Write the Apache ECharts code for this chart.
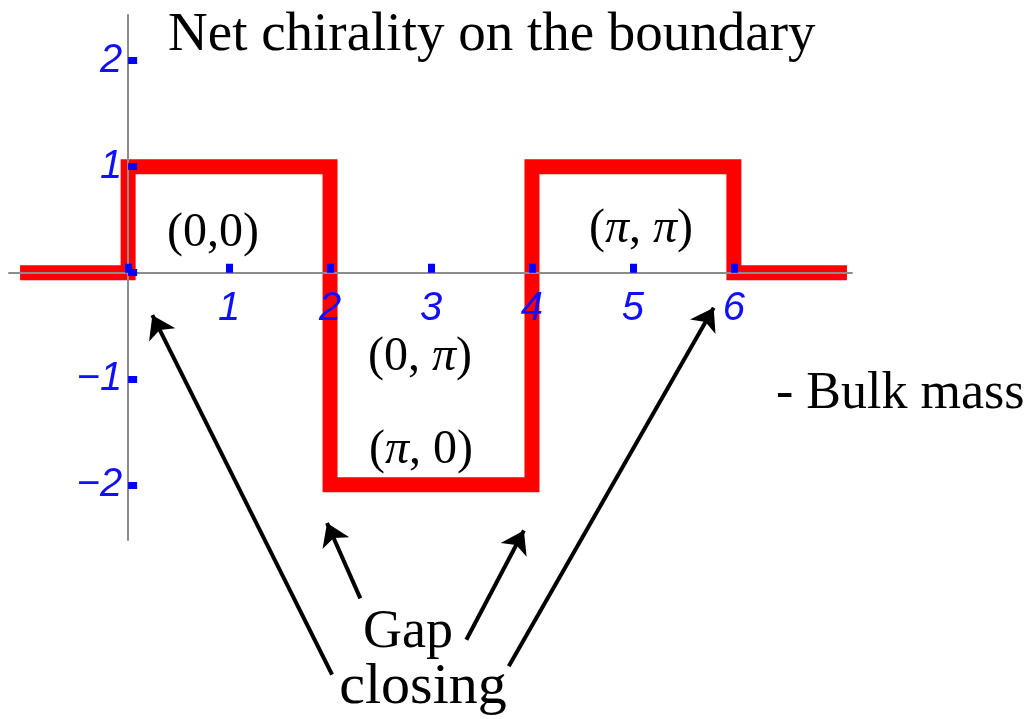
<!DOCTYPE html>
<html>
<head>
<meta charset="utf-8">
<script src="https://cdn.jsdelivr.net/npm/echarts@6/dist/echarts.min.js"></script>
<style>
  html, body { margin: 0; padding: 0; background: #ffffff; }
  #chart { width: 1030px; height: 719px; }
</style>
</head>
<body>
<div id="chart"></div>
<script>
// Boundaries between regions of the bulk mass parameter, and the net chirality in each
const edges = [-1.07, 0, 2, 4, 6, 7.12];
const chirality = [0, 1, -2, 1, 0];

// Axis ticks and labels
const xTickValues = [0, 1, 2, 3, 4, 5, 6];
const xLabelValues = [1, 2, 3, 4, 5, 6];
const yTickValues = [-2, -1, 0, 1, 2];
const yLabelValues = [-2, -1, 1, 2];

// Gap-closing arrows: [tail, head] in axis units
const arrows = [
  [[2.02, -3.79], [0.24, -0.40]],
  [[2.30, -3.07], [1.97, -2.36]],
  [[3.35, -3.46], [3.92, -2.43]],
  [[3.77, -3.71], [5.80, -0.33]]
];

const stepData = edges.map((x, i) => [x, chirality[Math.min(i, chirality.length - 1)]]);

const X_MIN = -1.18, X_MAX = 7.17;
const Y_MIN = -2.52, Y_MAX = 2.43;
const GRID = { left: 9, right: 178, top: 15, bottom: 179 };

const blue = '#1010ff';
const serif = '"Liberation Serif", "DejaVu Serif", serif';

const chart = echarts.init(document.getElementById('chart'), null, { renderer: 'canvas' });

// Place both axes through the origin by shifting them from the grid edges
const plotW = 1030 - GRID.left - GRID.right;
const plotH = 719 - GRID.top - GRID.bottom;
const xAxisShift = -(0 - Y_MIN) / (Y_MAX - Y_MIN) * plotH;
const yAxisShift = -(0 - X_MIN) / (X_MAX - X_MIN) * plotW;

const axisFont = '"Liberation Sans", Arial, sans-serif';

chart.setOption({
  animation: false,
  backgroundColor: '#ffffff',
  grid: Object.assign({ outerBoundsMode: 'none' }, GRID),
  xAxis: {
    type: 'value',
    min: X_MIN, max: X_MAX,
    offset: xAxisShift,
    z: 5,
    splitLine: { show: false },
    axisLine: { onZero: false, lineStyle: { color: '#8c8c8c', width: 2 } },
    axisTick: {
      customValues: xTickValues, inside: true, length: 9,
      lineStyle: { color: '#0000ff', width: 7 }
    },
    axisLabel: {
      customValues: xLabelValues, margin: 16,
      color: blue, fontStyle: 'italic', fontSize: 40, fontFamily: axisFont
    }
  },
  yAxis: {
    type: 'value',
    min: Y_MIN, max: Y_MAX,
    offset: yAxisShift,
    z: 5,
    splitLine: { show: false },
    axisLine: { onZero: false, lineStyle: { color: '#8c8c8c', width: 2 } },
    axisTick: {
      customValues: yTickValues, inside: true, length: 9,
      lineStyle: { color: '#0000ff', width: 7 }
    },
    axisLabel: {
      customValues: yLabelValues, margin: 6,
      color: blue, fontStyle: 'italic', fontSize: 40, fontFamily: axisFont,
      formatter: v => (v < 0 ? '\u2212' + (-v) : String(v))
    }
  },
  series: [
    {
      type: 'line',
      step: 'end',
      data: stepData,
      symbol: 'none',
      z: 2,
      lineStyle: { color: '#ff0000', width: 15, join: 'miter', cap: 'butt' }
    },
    {
      type: 'lines',
      coordinateSystem: 'cartesian2d',
      clip: false,
      z: 6,
      symbol: ['none', 'arrow'],
      symbolSize: 22,
      lineStyle: { color: '#000000', width: 4, opacity: 1, curveness: 0 },
      data: arrows.map(a => ({ coords: a }))
    }
  ],
  graphic: [
    {
      type: 'text', left: 168, top: 8, z: 10,
      style: { text: 'Net chirality on the boundary', font: '55px ' + serif, fill: '#000' }
    },
    {
      type: 'text', left: 776, top: 368, z: 10,
      style: { text: '- Bulk mass', font: '52px ' + serif, fill: '#000' }
    },
    {
      type: 'text', x: 408, y: 633, z: 10,
      style: { text: 'Gap', font: '54px ' + serif, fill: '#000', align: 'center', verticalAlign: 'middle' }
    },
    {
      type: 'text', x: 423, y: 688, z: 10,
      style: { text: 'closing', font: '58px ' + serif, fill: '#000', align: 'center', verticalAlign: 'middle' }
    },
    {
      type: 'text', x: 213, y: 233, z: 10,
      style: { text: '(0,0)', font: '48px ' + serif, fill: '#000', align: 'center', verticalAlign: 'middle' }
    },
    {
      type: 'text', x: 641, y: 229, z: 10,
      style: {
        text: '{n|(}{p|π}{n|, }{p|π}{n|)}', align: 'center', verticalAlign: 'middle',
        rich: {
          n: { font: '48px ' + serif, fill: '#000' },
          p: { font: 'italic 48px ' + serif, fill: '#000' }
        }
      }
    },
    {
      type: 'text', x: 420, y: 357, z: 10,
      style: {
        text: '{n|(0, }{p|π}{n|)}', align: 'center', verticalAlign: 'middle',
        rich: {
          n: { font: '48px ' + serif, fill: '#000' },
          p: { font: 'italic 48px ' + serif, fill: '#000' }
        }
      }
    },
    {
      type: 'text', x: 421, y: 450, z: 10,
      style: {
        text: '{n|(}{p|π}{n|, 0)}', align: 'center', verticalAlign: 'middle',
        rich: {
          n: { font: '48px ' + serif, fill: '#000' },
          p: { font: 'italic 48px ' + serif, fill: '#000' }
        }
      }
    }
  ]
});
</script>
</body>
</html>
